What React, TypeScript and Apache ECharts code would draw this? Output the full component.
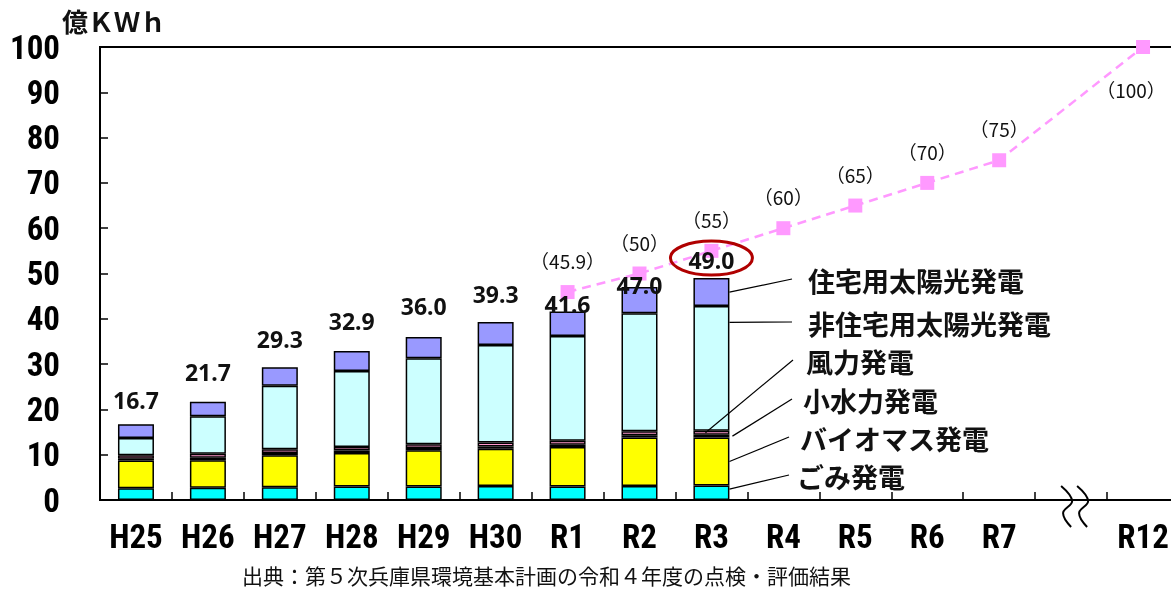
import React, { useEffect, useRef } from 'react';
import * as echarts from 'echarts';

const categories = ['H25', 'H26', 'H27', 'H28', 'H29', 'H30', 'R1', 'R2', 'R3', 'R4', 'R5', 'R6', 'R7', '', 'R12'];
const gomi = [2.6, 2.7, 2.8, 3.0, 3.0, 3.1, 3.0, 3.1, 3.2];
const biomass = [6.1, 6.1, 7.1, 7.4, 8.0, 8.2, 8.7, 10.7, 10.6];
const smallHydro = [0.4, 0.5, 0.5, 0.5, 0.5, 0.5, 0.5, 0.5, 0.6];
const wind = [0.8, 0.9, 0.8, 0.8, 0.8, 0.9, 0.9, 0.9, 0.9];
const nonResSolar = [3.8, 8.3, 14.0, 16.8, 19.0, 21.5, 23.1, 26.0, 27.5];
const resSolar = [3.0, 3.2, 4.1, 4.4, 4.7, 5.1, 5.4, 5.8, 6.2];
const totals = ['16.7', '21.7', '29.3', '32.9', '36.0', '39.3', '41.6', '47.0', '49.0'];
const target = [null, null, null, null, null, null, 45.9, 50, 55, 60, 65, 70, 75, null, 100];
const targetLabels = ['', '', '', '', '', '', '（45.9）', '（50）', '（55）', '（60）', '（65）', '（70）', '（75）', '', '（100）'];
const seriesNames = ['ごみ発電', 'バイオマス発電', '小水力発電', '風力発電', '非住宅用太陽光発電', '住宅用太陽光発電'];
const yTicks = [0, 100, 10];

const colors = ['#00ffff', '#ffff00', '#333366', '#ff99cc', '#ccffff', '#9999ff'];
const totalLabelDist = [13, 18, 17, 18, 19, 16, -4, -9, 7];
const axisFont = "'Roboto Condensed', 'Noto Sans ExtraCondensed', 'Noto Sans Condensed', 'DejaVu Sans Condensed', 'Liberation Sans Narrow', 'Arial Narrow', sans-serif";
const cjkFont = "'Noto Sans CJK JP', 'Noto Sans', sans-serif";

export default function App() {
  const ref = useRef<HTMLDivElement>(null);
  useEffect(() => {
    const chart = echarts.init(ref.current!, null, { renderer: 'svg' });
    const stacks = [gomi, biomass, smallHydro, wind, nonResSolar, resSolar];
    const barSeries = stacks.map((arr, si) => ({
      name: seriesNames[si],
      type: 'bar',
      stack: 'total',
      barWidth: 36,
      z: 3,
      itemStyle: { color: colors[si], borderColor: '#000', borderWidth: 1.5 },
      data: si === 5
        ? arr.map((v, i) => ({
            value: v,
            label: {
              show: true,
              position: 'top',
              distance: totalLabelDist[i],
              formatter: () => totals[i],
              fontFamily: "'Noto Sans', sans-serif",
              fontWeight: 'bold',
              fontSize: 23,
              color: '#111',
            },
          }))
        : arr,
    }));
    chart.setOption({
      animation: false,
      grid: {
        left: 100, top: 47, width: 1079, height: 453,
        outerBoundsMode: 'none', containLabel: false,
        show: true, borderColor: '#000', borderWidth: 2, backgroundColor: 'transparent',
      },
      xAxis: {
        type: 'category',
        data: categories,
        axisLine: { lineStyle: { color: '#000', width: 2 } },
        axisTick: { show: true, inside: true, length: 8, interval: 0, alignWithLabel: false, lineStyle: { color: '#000', width: 1.5 } },
        axisLabel: { interval: 0, margin: 20, color: '#000', fontFamily: axisFont, fontWeight: 'bold', fontSize: 33 },
        splitLine: { show: false },
      },
      yAxis: {
        type: 'value',
        min: yTicks[0],
        max: yTicks[1],
        interval: yTicks[2],
        axisLine: { show: true, lineStyle: { color: '#000', width: 2 } },
        axisTick: { show: true, inside: true, length: 8, lineStyle: { color: '#000', width: 1.5 } },
        axisLabel: { margin: 40, color: '#000', fontFamily: axisFont, fontWeight: 'bold', fontSize: 33 },
        splitLine: { show: false },
      },
      series: [
        ...barSeries,
        {
          name: '目標',
          type: 'line',
          z: 1,
          data: target,
          connectNulls: true,
          symbol: 'rect',
          symbolSize: 14,
          itemStyle: { color: '#ff99ff' },
          lineStyle: { color: '#ff99ff', width: 2.5, type: [9, 6] },
          label: {
            show: true,
            position: 'top',
            distance: 15,
            formatter: (p: any) => targetLabels[p.dataIndex],
            fontFamily: cjkFont,
            fontSize: 19,
            color: '#111',
          },
          labelLayout: (p: any) => (p.dataIndex === 14 ? { dx: -12, dy: 74 } : {}),
        },
      ],
    });

    const px = (i: number, v: number) => chart.convertToPixel({ gridIndex: 0 }, [i, v]) as number[];
    const r3 = 8;
    const cum: number[] = [];
    let acc = 0;
    stacks.forEach((arr) => { cum.push(acc); acc += arr[r3]; });
    const anchorFrac = [0.75, 0.5, 0.5, 0.5, 0.87, 0.5];
    const anchorDx = [18, 18, 21, 6, 18, 18];
    const labelPos = [
      { x: 797, y: 476, lx: 789 },
      { x: 800, y: 438, lx: 789 },
      { x: 803, y: 400, lx: 792 },
      { x: 806, y: 361, lx: 793 },
      { x: 808, y: 323, lx: 792 },
      { x: 808, y: 280, lx: 792 },
    ];
    const graphics: any[] = [];
    stacks.forEach((arr, si) => {
      const v = cum[si] + arr[r3] * anchorFrac[si];
      const p = px(r3, v);
      const L = labelPos[si];
      graphics.push({
        type: 'line',
        z: 50,
        shape: { x1: p[0] + anchorDx[si] - (si === 3 ? 12 : 0), y1: p[1], x2: L.lx, y2: L.y - 1 },
        style: { stroke: '#000', lineWidth: 1.2 },
      });
      graphics.push({
        type: 'text',
        z: 50,
        x: L.x,
        y: L.y,
        style: { text: seriesNames[si], fontFamily: cjkFont, fontWeight: 'bold', fontSize: 27, lineHeight: 28, fill: '#111', verticalAlign: 'middle', align: 'left' },
      });
    });
    const top = px(r3, acc);
    graphics.push({
      type: 'ellipse',
      z: 60,
      shape: { cx: top[0], cy: top[1] - 20, rx: 41, ry: 17 },
      style: { fill: 'none', stroke: '#b00000', lineWidth: 3 },
    });
    const br = px(13, 0);
    [0, 16].forEach((off) => {
      const bx = br[0] - 10 + off;
      graphics.push({
        type: 'polyline',
        z: 60,
        shape: { points: [[bx, br[1] - 14], [bx + 11, br[1] + 1], [bx + 2, br[1] + 13], [bx + 10, br[1] + 27]], smooth: 0.4 },
        style: { stroke: '#000', lineWidth: 2, fill: 'none' },
      });
    });
    graphics.push({
      type: 'text', z: 60, x: 62, y: 20,
      style: { text: '億ＫＷｈ', fontFamily: cjkFont, fontWeight: 'bold', fontSize: 26, fill: '#111', verticalAlign: 'middle' },
    });
    graphics.push({
      type: 'text', z: 60, x: 242, y: 575,
      style: { text: '出典：第５次兵庫県環境基本計画の令和４年度の点検・評価結果', fontFamily: cjkFont, fontSize: 21, lineHeight: 24, fill: '#111', verticalAlign: 'middle' },
    });
    chart.setOption({ graphic: graphics });
    return () => chart.dispose();
  }, []);
  return <div ref={ref} style={{ position: 'fixed', left: 0, top: 0, width: 1171, height: 590 }} />;
}
